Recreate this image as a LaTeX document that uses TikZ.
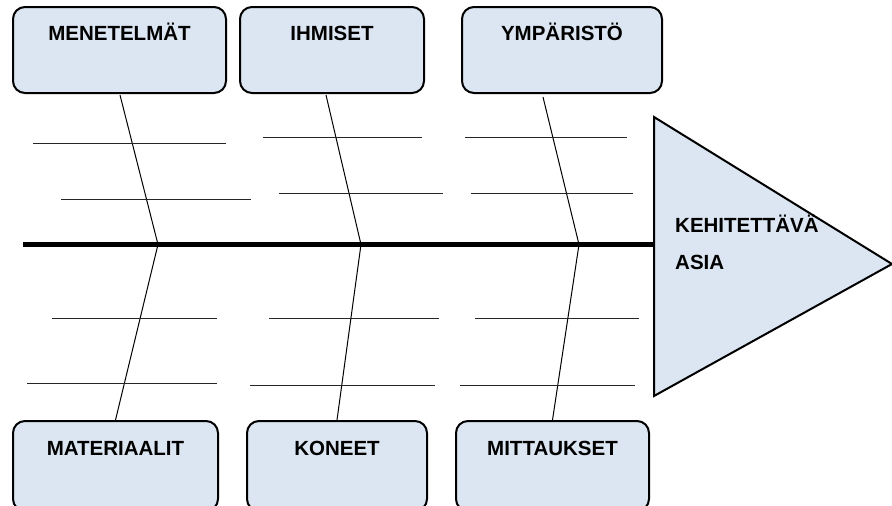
\documentclass[tikz,border=0pt]{standalone}
\usepackage{fontspec}
\setmainfont{Liberation Sans}
\usetikzlibrary{calc}
\definecolor{boxfill}{RGB}{220,230,242}
\tikzset{
  catbox/.style={draw=black, line width=2pt, rounded corners=12pt, fill=boxfill, inner sep=0pt},
  lbl/.style={font=\bfseries\fontsize{20.5}{24}\selectfont, anchor=base, inner sep=0pt},
  tlbl/.style={font=\bfseries\fontsize{20.5}{24}\selectfont, anchor=base west, inner sep=0pt},
  bone/.style={draw=black, line width=1pt},
  rib/.style={draw=black!85, line width=1pt},
  spine/.style={draw=black, line width=5.5pt},
}
\begin{document}
\begin{tikzpicture}[x=1pt,y=-1pt]
\useasboundingbox (0,0) rectangle (892,506);
% top boxes
\node[catbox, minimum width=213pt, minimum height=86pt] (men) at (119.5,50) {};
\node[catbox, minimum width=184pt, minimum height=86pt] (ihm) at (332,50) {};
\node[catbox, minimum width=200pt, minimum height=86pt] (ymp) at (562,50) {};
\node[lbl] (tmen) at ($(men.north)+(0,34.3)$) {MENETELMÄT};
\node[lbl] (tihm) at ($(ihm.north)+(0,34.3)$) {IHMISET};
\node[lbl] (tymp) at ($(ymp.north)+(0,34.3)$) {YMPÄRISTÖ};
% bottom boxes
\node[catbox, minimum width=205pt, minimum height=90pt] (mat) at (115.5,466) {};
\node[catbox, minimum width=180pt, minimum height=90pt] (kon) at (337,466) {};
\node[catbox, minimum width=193pt, minimum height=90pt] (mit) at (552.5,466) {};
\node[lbl] (tmat) at ($(mat.north)+(0,35.7)$) {MATERIAALIT};
\node[lbl] (tkon) at ($(kon.north)+(0,35.7)$) {KONEET};
\node[lbl] (tmit) at ($(mit.north)+(0,35.7)$) {MITTAUKSET};
% triangle (effect)
\coordinate (tA) at (654,117);
\coordinate (tB) at (892,264);
\coordinate (tC) at (654,396);
\draw[line width=2pt, fill=boxfill, line join=miter] (tA) -- (tB) -- (tC) -- cycle;
\node[tlbl] (eff1) at (675,232) {KEHITETTÄVÄ};
\node[tlbl] (eff2) at (675,269) {ASIA};
% spine
\coordinate (sL) at (23,244.5);
\coordinate (sR) at (654,244.5);
\draw[spine] (sL) -- (sR);
% spine joints
\coordinate (j1) at (158,244.5);
\coordinate (j2) at (361,244.5);
\coordinate (j3) at (579,244.5);
% top bone starts
\coordinate (b1) at (120,95);
\coordinate (b2) at (326,95);
\coordinate (b3) at (543,97);
\draw[bone] (b1) -- (j1);
\draw[bone] (b2) -- (j2);
\draw[bone] (b3) -- (j3);
\draw[bone] (j1) -- (mat.north);
\draw[bone] (j2) -- (kon.north);
\draw[bone] (j3) -- (mit.north);
% ribs top
\coordinate (r1a) at (33,143);  \coordinate (r1b) at (226,143);
\coordinate (r2a) at (61,199);  \coordinate (r2b) at (251,199);
\coordinate (r3a) at (263,137); \coordinate (r3b) at (422,137);
\coordinate (r4a) at (279,193); \coordinate (r4b) at (443,193);
\coordinate (r5a) at (465,137); \coordinate (r5b) at (627,137);
\coordinate (r6a) at (471,193); \coordinate (r6b) at (633,193);
% ribs bottom
\coordinate (r7a) at (52,318);  \coordinate (r7b) at (217,318);
\coordinate (r8a) at (27,383);  \coordinate (r8b) at (217,383);
\coordinate (r9a) at (269,318); \coordinate (r9b) at (439,318);
\coordinate (r10a) at (250,385); \coordinate (r10b) at (435,385);
\coordinate (r11a) at (475,318); \coordinate (r11b) at (639,318);
\coordinate (r12a) at (460,385); \coordinate (r12b) at (635,385);
\foreach \i in {1,...,12} {\draw[rib] (r\i a) -- (r\i b);}
\end{tikzpicture}
\end{document}
